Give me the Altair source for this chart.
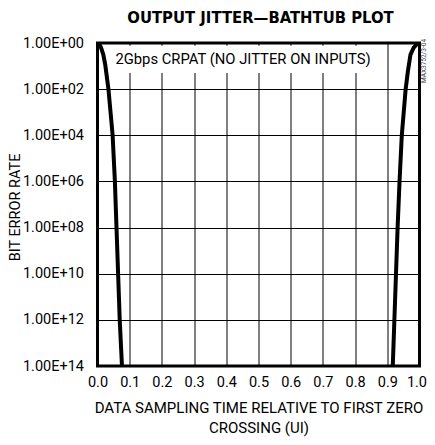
import altair as alt
import pandas as pd

# Left edge of the bathtub: sampling position (UI) vs BER exponent (BER = 1E-n)
left_x = [0.000, 0.006, 0.011, 0.018, 0.024, 0.034, 0.047, 0.054, 0.059, 0.064, 0.069, 0.076]
left_n = [0.00, 0.08, 0.20, 0.50, 0.94, 2.00, 4.00, 6.00, 8.00, 10.00, 12.00, 14.00]

# Right edge of the bathtub
right_x = [0.917, 0.922, 0.927, 0.932, 0.938, 0.945, 0.957, 0.964, 0.972, 0.982, 0.992, 1.000]
right_n = [14.00, 12.00, 10.00, 8.00, 6.00, 4.00, 2.00, 1.22, 0.50, 0.20, 0.05, 0.00]

x_ticks = [0.0, 0.1, 0.2, 0.3, 0.4, 0.5, 0.6, 0.7, 0.8, 0.9, 1.0]
y_ticks = [0, 2, 4, 6, 8, 10, 12, 14]

chart_title = "OUTPUT JITTER\u2014BATHTUB PLOT"
x_title = ["DATA SAMPLING TIME RELATIVE TO FIRST ZERO", "CROSSING (UI)"]
y_title = "BIT ERROR RATE"
note = "2Gbps CRPAT (NO JITTER ON INPUTS)"
side_note = "MAX3752/3-04"

FONT = "Roboto"

rows = []
for i, (x, n) in enumerate(zip(left_x, left_n)):
    rows.append({"x": x, "n": n, "side": "left", "o": i})
for i, (x, n) in enumerate(zip(right_x, right_n)):
    rows.append({"x": x, "n": n, "side": "right", "o": i})
curve = pd.DataFrame(rows)

xs = alt.Scale(domain=[0, 1], nice=False)
ys = alt.Scale(domain=[0, 14], reverse=True, nice=False, zero=False)

x_axis = alt.Axis(values=x_ticks, format=".1f", title=x_title, grid=True, labelOverlap=False,
                  labelFlush=False, ticks=False, domain=False, labelPadding=9,
                  labelAlign={"expr": "datum.value >= 0.99 ? 'right' : 'center'"},
                  labelOffset={"expr": "datum.value >= 0.99 ? 7 : 0"},
                  titlePadding=12, titleFontSize=15, titleLineHeight=19.5)
y_axis = alt.Axis(values=y_ticks, grid=True, ticks=False, domain=False, labelOverlap=False,
                  labelFlush=False,
                  labelExpr="'1.00E+' + (datum.value < 10 ? '0' : '') + datum.value",
                  title=y_title, labelPadding=14, titleFontSize=14.5,
                  titleX=-78.5, titleY=164, titleBaseline="alphabetic", titleAlign="center")

box_df = pd.DataFrame({"x": [0.045], "x2": [0.86], "n": [0.12], "n2": [1.30]})
box = alt.Chart(box_df).mark_rect(color="white").encode(
    x=alt.X("x:Q", scale=xs, axis=x_axis), x2="x2:Q",
    y=alt.Y("n:Q", scale=ys, axis=y_axis), y2="n2:Q",
)

note_df = pd.DataFrame({"x": [0.452], "n": [0.73], "t": [note]})
note_text = alt.Chart(note_df).mark_text(font=FONT, fontSize=14.8, color="black").encode(
    x=alt.X("x:Q", scale=xs, axis=x_axis), y=alt.Y("n:Q", scale=ys, axis=y_axis), text="t:N"
)

lines = alt.Chart(curve).mark_line(color="black", strokeWidth=4, clip=True).encode(
    x=alt.X("x:Q", scale=xs, axis=x_axis),
    y=alt.Y("n:Q", scale=ys, axis=y_axis),
    detail="side:N",
    order="o:Q",
)

side_df = pd.DataFrame({"t": [side_note]})
side_text = alt.Chart(side_df).mark_text(
    font=FONT, fontSize=6.5, color="#444", angle=270, align="center", baseline="middle"
).encode(x=alt.value(326), y=alt.value(18), text="t:N")

chart = alt.layer(box, note_text, lines, side_text).properties(
    width=322,
    height=323,
    autosize="none",
    padding={"left": 89.5, "top": 35, "right": 7, "bottom": 71},
    title=alt.TitleParams(chart_title, font="DejaVu Sans Condensed", fontSize=16.5,
                          fontWeight="bold", anchor="middle", offset=9, dx=2, color="black"),
).configure_view(
    stroke="black", strokeWidth=3
).configure_axis(
    gridColor="black", gridOpacity=1, gridWidth=1,
    labelFont=FONT, labelFontSize=14.5, labelColor="black",
    titleFont=FONT, titleFontWeight="normal", titleColor="black",
)

chart.save("out.html", embed_options={"renderer": "svg", "actions": False})
